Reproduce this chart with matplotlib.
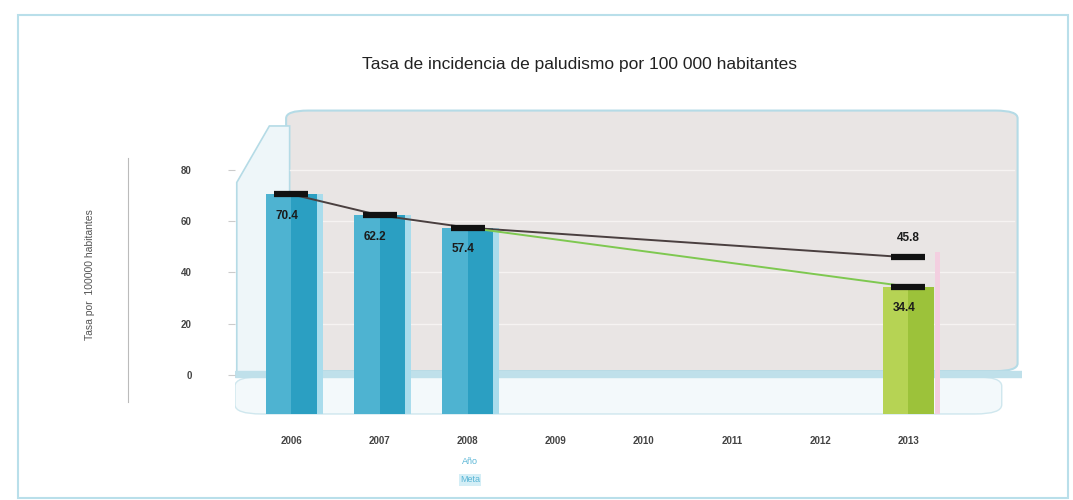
import numpy as np
import matplotlib
matplotlib.use("Agg")
import matplotlib.pyplot as plt
from matplotlib.patches import FancyBboxPatch, Rectangle, Polygon

plt.rcParams['font.family'] = ['Liberation Sans', 'DejaVu Sans']

# datos
anios = ['2006', '2007', '2008', '2009', '2010', '2011', '2012', '2013']
anios_obs = ['2006', '2007', '2008']
tasa_obs = [70.4, 62.2, 57.4]
anio_meta = '2013'
tasa_real_2013 = 34.4
tasa_meta_2013 = 45.8
y_ticks = [0, 20, 40, 60, 80]

fig = plt.figure(figsize=(10.73, 5.0), dpi=100)
W, H = 1073, 500

def fx(px):
    return px / W

def fy(py):
    return 1 - py / H

# marco exterior
fig.patches.append(Rectangle((fx(18), fy(498)), fx(1050), 483 / H, transform=fig.transFigure,
                             fill=False, edgecolor='#b9dfea', linewidth=1.5))
fig.text(fx(579), fy(65), 'Tasa de incidencia de paludismo por 100 000 habitantes',
         ha='center', va='center', fontsize=12.5, color='#222222')

# linea vertical a la izquierda
fig.add_artist(plt.Line2D([fx(128), fx(128)], [fy(158), fy(402)], transform=fig.transFigure,
                          color='#bbbbbb', linewidth=0.8))

ax = fig.add_axes([fx(235), fy(415), fx(1022 - 235), (415 - 108) / H])
ax.set_xlim(-0.64, 8.29)
ax.set_ylim(-15.6, 104)
ax.set_facecolor('none')
for s in ax.spines.values():
    s.set_visible(False)

x = np.arange(len(anios))
idx = {a: i for i, a in enumerate(anios)}

# panel gris de fondo
ax.add_patch(FancyBboxPatch((-0.06, 1.5), 8.3, 101.5, boxstyle='round,pad=0,rounding_size=0.25',
                            mutation_aspect=12, facecolor='#e9e5e4', edgecolor='#b5dbe6',
                            linewidth=1.5, zorder=0))
# panel izquierdo azulado (esquina superior biselada)
ax.add_patch(Polygon([(-0.62, 0), (-0.62, 75), (-0.25, 97), (-0.02, 97), (-0.02, 0)],
                     closed=True, facecolor='#eef6f9', edgecolor='#b5dbe6', linewidth=1.2,
                     zorder=0))
# piso
ax.add_patch(FancyBboxPatch((-0.64, -15.2), 8.7, 14.5, boxstyle='round,pad=0,rounding_size=0.3',
                            mutation_aspect=12, facecolor='#f3f9fb', edgecolor='#cfe7ee',
                            linewidth=1.0, zorder=0.5))
ax.axhspan(-0.8, 1.6, xmin=0, xmax=1, color='#bfe0ea', zorder=0.6)

for t in y_ticks[1:]:
    ax.axhline(t, xmin=0.07, xmax=0.99, color='#f6f3f2', linewidth=1.0, zorder=0.7)

# barras observadas
bw = 0.58
base = -15.2
xo = [idx[a] for a in anios_obs]
ax.bar(xo, [v - base for v in tasa_obs], bottom=base, width=bw, color='#2b9fc2', zorder=2)
ax.bar([i - bw / 4 for i in xo], [v - base for v in tasa_obs], bottom=base, width=bw / 2,
       color='#6cc4de', alpha=0.55, zorder=2.1)
ax.bar([i + bw / 2 + 0.035 for i in xo], [v - base for v in tasa_obs], bottom=base, width=0.07,
       color='#a9dcec', zorder=2)

# barra 2013 (valor real)
i13 = idx[anio_meta]
ax.bar(i13, tasa_real_2013 - base, bottom=base, width=bw, color='#9cc23a', zorder=2)
ax.bar(i13 - bw / 4, tasa_real_2013 - base, bottom=base, width=bw / 2, color='#c9e066',
       alpha=0.6, zorder=2.1)
ax.bar(i13 + bw / 2 + 0.04, tasa_meta_2013 + 2 - base, bottom=base, width=0.06,
       color='#f3cfe0', zorder=1.5)

# lineas de tendencia
ax.plot(xo + [i13], tasa_obs + [tasa_meta_2013], color='#4a3f3f', linewidth=1.4, zorder=3)
ax.plot([xo[-1], i13], [tasa_obs[-1], tasa_real_2013], color='#7ec850', linewidth=1.4, zorder=3)

# marcadores
ax.plot(xo + [i13], tasa_obs + [tasa_real_2013], linestyle='none', marker='_', markersize=24,
        markeredgewidth=4.5, color='#111111', zorder=4)
ax.plot([i13], [tasa_meta_2013], linestyle='none', marker='_', markersize=24,
        markeredgewidth=4.5, color='#111111', zorder=4)

# etiquetas
for i, v in zip(xo, tasa_obs):
    ax.text(i - 0.05, v - 8.5, f'{v:.1f}', ha='center', va='center', fontsize=8.5,
            fontweight='bold', color='#1b1b1b', zorder=5)
ax.text(i13 - 0.05, tasa_real_2013 - 8.5, f'{tasa_real_2013:.1f}', ha='center', va='center',
        fontsize=8.5, fontweight='bold', color='#1b1b1b', zorder=5)
ax.text(i13, tasa_meta_2013 + 7.5, f'{tasa_meta_2013:.1f}', ha='center', va='center',
        fontsize=8.5, fontweight='bold', color='#1b1b1b', zorder=5)

# ejes
ax.set_xticks(x)
ax.set_xticklabels(anios, fontsize=7, color='#444444', fontweight='bold')
ax.tick_params(axis='x', length=0, pad=15)
ax.set_yticks(y_ticks)
ax.set_yticklabels([str(t) for t in y_ticks], fontsize=7, color='#444444', fontweight='bold')
ax.tick_params(axis='y', length=5, pad=26, color='#cccccc')

fig.text(fx(90), fy(275), 'Tasa por  100000 habitantes', rotation=90, ha='center', va='center',
         fontsize=7.5, color='#555555')

# leyenda
fig.text(fx(470), fy(461), 'Año', ha='center', va='center', fontsize=6.5, color='#5ab6d6')
fig.text(fx(470), fy(480), 'Meta', ha='center', va='center', fontsize=6.5, color='#5ab6d6',
         bbox=dict(facecolor='#d4eef6', edgecolor='none', pad=1))

fig.savefig('out.png', dpi=100)
